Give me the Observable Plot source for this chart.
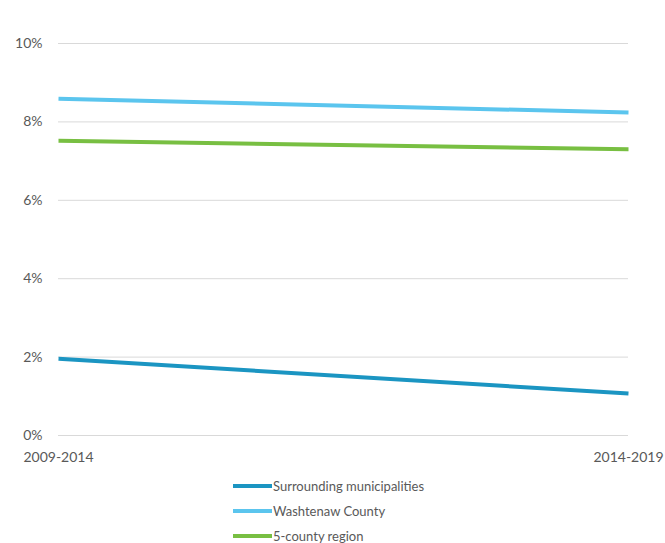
<!DOCTYPE html>
<html>
<head>
<meta charset="utf-8">
<script src="https://cdn.jsdelivr.net/npm/d3@7"></script>
<script src="https://cdn.jsdelivr.net/npm/@observablehq/plot@0.6"></script>
<style>
  html, body { margin: 0; padding: 0; background: #fff; }
  #chart { width: 665px; }
  .legend { font-family: Lato, "Open Sans", sans-serif; font-size: 13px; color: #595959; padding-left: 233px; padding-top: 1px; }
  .legend .row { display: flex; align-items: center; height: 25px; }
  .legend .sw { width: 39px; height: 4px; margin-right: 1px; }
</style>
</head>
<body>
<div id="chart"></div>
<script>
const periods = ["2009-2014", "2014-2019"];
const seriesNames = ["Surrounding municipalities", "Washtenaw County", "5-county region"];
const seriesColors = ["#1b95c2", "#5bc5ee", "#78bf42"];
const surrounding = [1.96, 1.07];
const washtenaw = [8.59, 8.24];
const region5 = [7.52, 7.30];
const yTicks = [0, 2, 4, 6, 8, 10];

const seriesValues = [surrounding, washtenaw, region5];
const rows = [];
seriesNames.forEach((name, i) => {
  periods.forEach((p, j) => rows.push({series: name, period: p, value: seriesValues[i][j]}));
});

const plot = Plot.plot({
  width: 665,
  height: 472,
  marginLeft: 58,
  marginRight: 37,
  marginTop: 43,
  marginBottom: 37,
  style: {fontFamily: "Lato, 'Open Sans', sans-serif", fontSize: "14px", color: "#595959", background: "#fff"},
  x: {type: "point", domain: periods, padding: 0, label: null},
  y: {domain: [0, 10], label: null},
  color: {domain: seriesNames, range: seriesColors},
  marks: [
    Plot.gridY(yTicks, {stroke: "#d9d9d9", strokeOpacity: 1, strokeWidth: 1}),
    Plot.axisY({ticks: yTicks, tickSize: 0, tickPadding: 16, tickFormat: d => d + "%", fill: "#595959", label: null}),
    Plot.axisX({tickSize: 0, tickPadding: 17, fill: "#595959", label: null}),
    Plot.line(rows, {x: "period", y: "value", z: "series", stroke: "series", strokeWidth: 4, strokeLinecap: "butt"})
  ]
});
document.getElementById("chart").appendChild(plot);

const legend = document.createElement("div");
legend.className = "legend";
seriesNames.forEach((name, i) => {
  const row = document.createElement("div");
  row.className = "row";
  const sw = document.createElement("span");
  sw.className = "sw";
  sw.style.background = seriesColors[i];
  const label = document.createElement("span");
  label.textContent = name;
  row.appendChild(sw);
  row.appendChild(label);
  legend.appendChild(row);
});
document.getElementById("chart").appendChild(legend);
</script>
</body>
</html>
